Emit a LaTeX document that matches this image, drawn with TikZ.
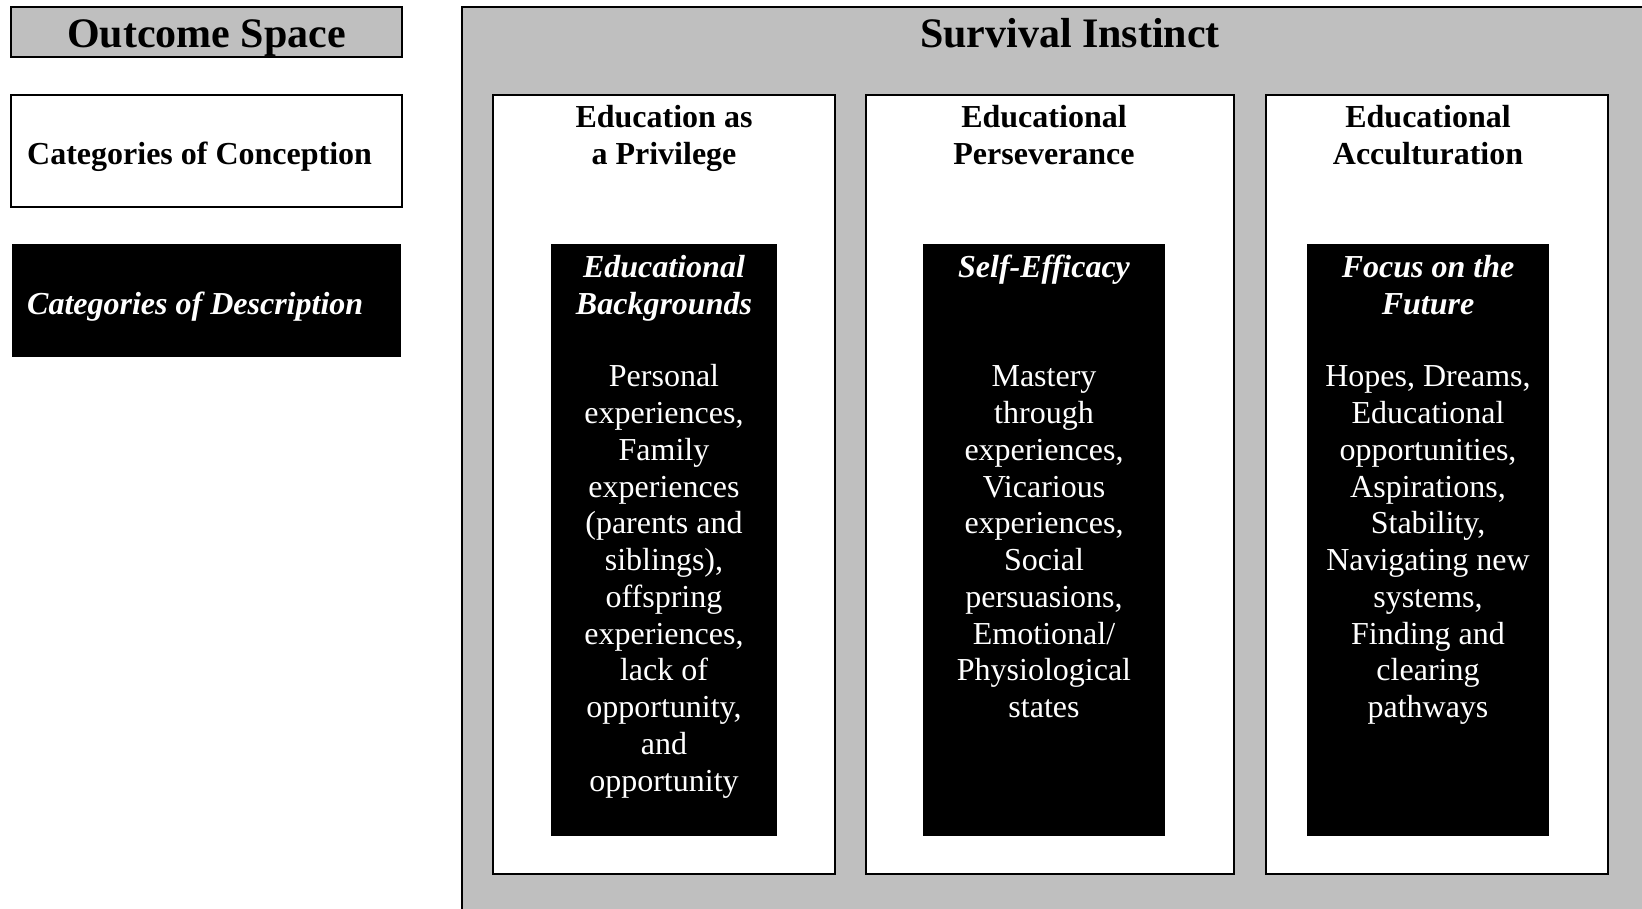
\documentclass[tikz,border=0pt]{standalone}
\usepackage{fontspec}
\setmainfont{Liberation Serif}
\definecolor{panelgray}{RGB}{191,191,191}
\newcommand{\stackedlines}[1]{\begin{tabular}[t]{@{}c@{}}#1\end{tabular}}
\newcommand{\headsize}{\fontsize{42}{46}\selectfont}
\newcommand{\titlesize}{\fontsize{32}{36.7}\selectfont}
\newcommand{\bodysize}{\fontsize{32}{36.75}\selectfont}
\tikzset{
  frame/.style={draw=black, line width=2pt, inner sep=0pt, outer sep=0pt},
  graybox/.style={frame, fill=panelgray},
  whitebox/.style={frame, fill=white},
  blackbox/.style={fill=black, inner sep=0pt, outer sep=0pt},
  heading/.style={anchor=base, inner sep=0pt, font=\headsize\bfseries},
  coltitle/.style={anchor=base, inner sep=0pt, font=\titlesize\bfseries},
  desctitle/.style={anchor=base, inner sep=0pt, text=white, font=\titlesize\bfseries\itshape},
  desctext/.style={anchor=base, inner sep=0pt, text=white, font=\bodysize},
}
\begin{document}
\begin{tikzpicture}[x=1pt, y=-1pt]
\useasboundingbox (0,0) rectangle (1642,909);
\fill[white] (0,0) rectangle (1642,909);

% legend column
\node[graybox, minimum width=391, minimum height=50] (outcome) at (206.5,32) {};
\node[heading] (outcometxt) at (206.5,47.8) {Outcome Space};
\node[whitebox, minimum width=391, minimum height=112] (conception) at (206.5,151) {};
\node[anchor=base west, inner sep=0pt, font=\titlesize\bfseries] (conceptiontxt) at (27,165) {Categories of Conception};
\node[blackbox, minimum width=389, minimum height=113] (description) at (206.5,300.5) {};
\node[anchor=base west, inner sep=0pt, text=white, font=\titlesize\bfseries\itshape] (descriptiontxt) at (27,315) {Categories of Description};

% survival instinct panel, open towards the right and bottom edges
\fill[panelgray] (462,7) rectangle (1642,909);
\draw[line width=2pt] (462,909) -- (462,7) -- (1642,7);
\node[heading] (survival) at (1070,47.8) {Survival Instinct};

% categories of conception
\node[whitebox, minimum width=342, minimum height=779] (col1) at (664,484.5) {};
\node[whitebox, minimum width=368, minimum height=779] (col2) at (1050,484.5) {};
\node[whitebox, minimum width=342, minimum height=779] (col3) at (1437,484.5) {};

\node[coltitle] (t1) at (664,128) {\stackedlines{Education as\\a Privilege}};
\node[coltitle] (t2) at (1044,128) {\stackedlines{Educational\\Perseverance}};
\node[coltitle] (t3) at (1428,128) {\stackedlines{Educational\\Acculturation}};

% categories of description
\node[blackbox, minimum width=226, minimum height=592] (d1) at (664,540) {};
\node[blackbox, minimum width=242, minimum height=592] (d2) at (1044,540) {};
\node[blackbox, minimum width=242, minimum height=592] (d3) at (1428,540) {};

\node[desctitle] (h1) at (664,277.5) {\stackedlines{Educational\\Backgrounds}};
\node[desctitle] (h2) at (1044,277.5) {Self-Efficacy};
\node[desctitle] (h3) at (1428,277.5) {\stackedlines{Focus on the\\Future}};

\node[desctext] (b1) at (664,387) {\stackedlines{Personal\\experiences,\\Family\\experiences\\(parents and\\siblings),\\offspring\\experiences,\\lack of\\opportunity,\\and\\opportunity}};
\node[desctext] (b2) at (1044,387) {\stackedlines{Mastery\\through\\experiences,\\Vicarious\\experiences,\\Social\\persuasions,\\Emotional/\\Physiological\\states}};
\node[desctext] (b3) at (1428,387) {\stackedlines{Hopes, Dreams,\\Educational\\opportunities,\\Aspirations,\\Stability,\\Navigating new\\systems,\\Finding and\\clearing\\pathways}};
\end{tikzpicture}
\end{document}
